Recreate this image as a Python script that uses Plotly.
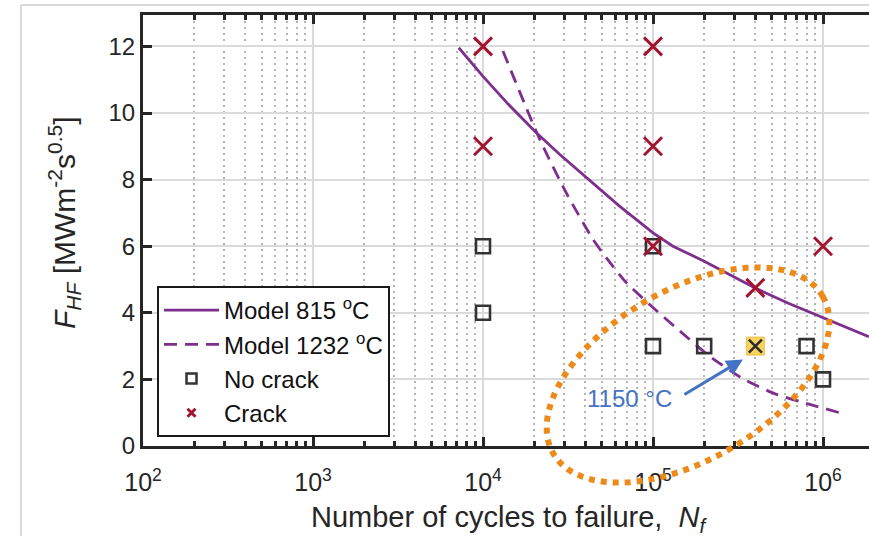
import numpy as np
import plotly.graph_objects as go

# ---------------- data ----------------
model815_N = [7.2e3, 1.0e4, 1.41e4, 2.06e4, 2.82e4, 4.06e4, 6.3e4, 1.0e5, 1.31e5,
              2.0e5, 2.96e5, 3.96e5, 6.3e5, 1.0e6, 1.86e6]
model815_F = [11.96, 11.1, 10.26, 9.41, 8.76, 8.05, 7.22, 6.4, 6.0,
              5.55, 5.10, 4.75, 4.28, 3.85, 3.28]

model1232_N = [1.31e4, 2.16e4, 3.09e4, 4.44e4, 5.32e4, 6.98e4, 9.55e4, 1.44e5, 2.15e5,
               3.38e5, 5.32e5, 8.36e5, 1.25e6]
model1232_F = [11.86, 9.2, 7.6, 6.2, 5.65, 4.9, 4.25, 3.45, 2.7, 2.02, 1.55, 1.25, 1.0]

nocrack_N = [1e4, 1e4, 1e5, 1e5, 2e5, 4e5, 8e5, 1e6]
nocrack_F = [6, 4, 6, 3, 3, 3, 3, 2]

crack_N = [1e4, 1e4, 1e5, 1e5, 1e5, 4e5, 1e6]
crack_F = [12, 9, 12, 9, 6, 4.75, 6]

highlight_N = [4e5]
highlight_F = [3]

x_tickvals = [1e2, 1e3, 1e4, 1e5, 1e6]
x_ticktext = ["10<sup>2</sup>", "10<sup>3</sup>", "10<sup>4</sup>", "10<sup>5</sup>", "10<sup>6</sup>"]
x_minor = [m * 10.0 ** k for k in range(2, 7) for m in range(2, 10)]
y_tickvals = [0, 2, 4, 6, 8, 10, 12]

# ---------------- styling ----------------
W, H = 869, 536
ML, MR, MT, MB = 143, 0, 15, 90
PW, PH = W - ML - MR, H - MT - MB
PURPLE = "#7E2F8E"
RED = "#A2142F"
DARK = "#262626"
FONT = "Liberation Sans, Arial, sans-serif"

fig = go.Figure()

fig.add_trace(go.Scatter(x=model815_N, y=model815_F, mode="lines",
                         line=dict(color=PURPLE, width=2.8),
                         name="Model 815 <sup>o</sup>C"))
fig.add_trace(go.Scatter(x=model1232_N, y=model1232_F, mode="lines",
                         line=dict(color=PURPLE, width=2.8, dash="13px,8px", shape="spline",
                                   smoothing=0.6),
                         name="Model 1232 <sup>o</sup>C"))
# legend-only entries (small symbols as in the reference legend)
fig.add_trace(go.Scatter(x=[None], y=[None], mode="markers", name="No crack",
                         marker=dict(symbol="square-open", size=10, color="#333333",
                                     line=dict(width=2.5, color="#333333"))))
fig.add_trace(go.Scatter(x=[None], y=[None], mode="markers", name="Crack",
                         marker=dict(symbol="x-thin-open", size=8, color=RED,
                                     line=dict(width=3, color=RED))))

fig.add_trace(go.Scatter(x=nocrack_N, y=nocrack_F, mode="markers", showlegend=False,
                         marker=dict(symbol="square-open", size=14, color="#333333",
                                     line=dict(width=2.6, color="#333333"))))
fig.add_trace(go.Scatter(x=highlight_N, y=highlight_F, mode="markers", showlegend=False,
                         marker=dict(symbol="square", size=18, color="#F6D35E",
                                     line=dict(width=1, color="#E9C24F"))))
fig.add_trace(go.Scatter(x=highlight_N, y=highlight_F, mode="markers", showlegend=False,
                         marker=dict(symbol="x-thin-open", size=13, color="#2b2b2b",
                                     line=dict(width=2.5, color="#2b2b2b"))))
fig.add_trace(go.Scatter(x=crack_N, y=crack_F, mode="markers", showlegend=False,
                         marker=dict(symbol="x-thin-open", size=18, color=RED,
                                     line=dict(width=3, color=RED))))

# ---------------- ellipse (pixel geometry -> paper coords) ----------------
cx, cy, a, b, ang = 688.0, 375.0, 156.0, 85.0, np.deg2rad(30.3)
t = np.linspace(0, 2 * np.pi, 121)
ex = cx + a * np.cos(t) * np.cos(ang) + b * np.sin(t) * np.sin(ang)
ey = cy - a * np.cos(t) * np.sin(ang) + b * np.sin(t) * np.cos(ang)
px = (ex - ML) / PW
py = (H - MB - ey) / PH
path = "M " + " L ".join(f"{u:.5f},{v:.5f}" for u, v in zip(px, py)) + " Z"

shapes = [
    dict(type="path", path=path, xref="paper", yref="paper",
         line=dict(color="#EC8A1A", width=6, dash="dot"), layer="above"),
    # faint frame lines of the original figure
    dict(type="line", xref="paper", yref="paper",
         x0=(21 - ML) / PW, x1=1.0, y0=(H - MB - 5) / PH, y1=(H - MB - 5) / PH,
         line=dict(color="#cccccc", width=1.5)),
    dict(type="line", xref="paper", yref="paper",
         x0=(21 - ML) / PW, x1=(21 - ML) / PW, y0=(H - MB - 5) / PH, y1=(H - MB - 536) / PH,
         line=dict(color="#cccccc", width=1.5)),
]

annotations = [
    # arrow
    dict(x=5.529, y=2.6, xref="x", yref="y", text="", showarrow=True,
         ax=-60, ay=36, axref="pixel", ayref="pixel",
         arrowhead=2, arrowsize=1.1, arrowwidth=3, arrowcolor="#4472C4", standoff=0),
    dict(x=(629 - ML) / PW, y=(H - MB - 398) / PH, xref="paper", yref="paper",
         text="1150 °C", showarrow=False, font=dict(size=24, color="#4472C4", family=FONT),
         xanchor="center", yanchor="middle"),
    # axis titles
    dict(x=(509 - ML) / PW, y=(H - MB - 519) / PH, xref="paper", yref="paper",
         text="Number of cycles to failure,&nbsp;&nbsp;<i>N</i><sub><i>f</i></sub>",
         showarrow=False, font=dict(size=29, color=DARK, family=FONT),
         xanchor="center", yanchor="middle"),
    dict(x=(64 - ML) / PW, y=(H - MB - 223) / PH, xref="paper", yref="paper",
         text="<i>F</i><sub><i>HF</i></sub> [MWm<sup>-2</sup>s<sup>0.5</sup>]",
         textangle=-90, showarrow=False, font=dict(size=30, color=DARK, family=FONT),
         xanchor="center", yanchor="middle"),
]

fig.update_layout(
    width=W, height=H,
    margin=dict(l=ML, r=MR, t=MT, b=MB),
    paper_bgcolor="white", plot_bgcolor="white",
    font=dict(family=FONT, size=24, color=DARK),
    showlegend=True,
    legend=dict(x=(157 - ML) / PW, y=(H - MB - 286) / PH, xanchor="left", yanchor="top",
                bgcolor="white", bordercolor="#1a1a1a", borderwidth=2,
                font=dict(size=24, color="#111111", family=FONT),
                itemwidth=55, tracegroupgap=0),
    shapes=shapes,
    annotations=annotations,
)

fig.update_xaxes(
    type="log", range=[2, 2 + PW / 170.0],
    tickmode="array", tickvals=x_tickvals, ticktext=x_ticktext,
    ticks="inside", ticklen=9, tickwidth=2.5, tickcolor=DARK,
    showline=True, linewidth=3, linecolor=DARK, mirror="ticks",
    showgrid=True, gridcolor="#dadada", gridwidth=2,
    tickfont=dict(size=25, color=DARK, family=FONT),
    ticklabelstandoff=12,
    minor=dict(tickmode="array", tickvals=x_minor, ticks="inside", ticklen=5,
               tickwidth=2.5, tickcolor=DARK, showgrid=True,
               gridcolor="#b4b4b4", gridwidth=2, griddash="2px,4px"),
    zeroline=False,
)
fig.update_yaxes(
    range=[0, PH / 33.3],
    tickmode="array", tickvals=y_tickvals,
    ticks="inside", ticklen=9, tickwidth=2.5, tickcolor=DARK,
    showline=True, linewidth=3, linecolor=DARK, mirror=False,
    showgrid=True, gridcolor="#dadada", gridwidth=2,
    tickfont=dict(size=24, color=DARK, family=FONT),
    ticklabelstandoff=0,
    zeroline=False,
)

fig.write_html("out.html")
